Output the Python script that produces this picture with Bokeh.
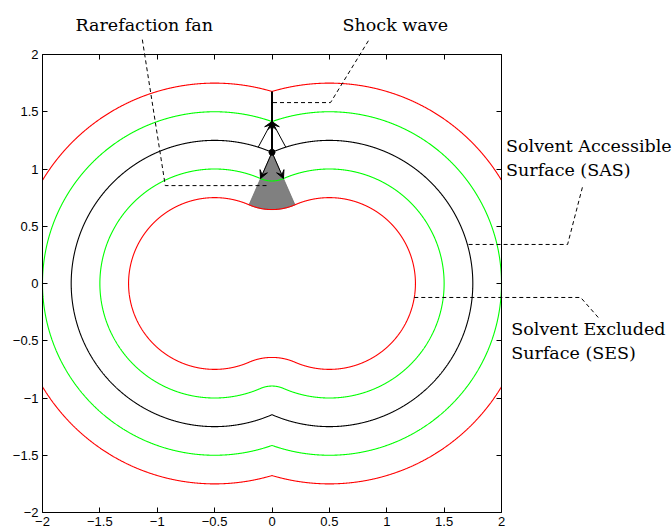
import numpy as np
from bokeh.plotting import figure
from bokeh.models import Range1d, LinearAxis, FixedTicker, Label, Arrow, VeeHead
from bokeh.embed import file_html
from bokeh.resources import INLINE

# ---------------- data ----------------
atom_x = [-0.5, 0.5]          # atom centres (y = 0)
sas_radius = 1.25             # solvent accessible surface radius
level_offsets = [-0.5, -0.25, 0.0, 0.25, 0.5]   # signed distance to SAS
char_start_x = [-0.12, 0.12]  # start of the converging characteristics on SAS
fan_arrow_len = 0.25
axis_limits = [-2, 2]

tick_values = [-2, -1.5, -1, -0.5, 0, 0.5, 1, 1.5, 2]
tick_labels = ["\u22122", "\u22121.5", "\u22121", "\u22120.5", "0", "0.5", "1", "1.5", "2"]

# ---------------- styles / layout ----------------
level_colors = ["#ff0000", "#00ff00", "#000000", "#00ff00", "#ff0000"]
serif = "DejaVu Serif"
sans = "Liberation Sans"
W, H = 672, 531
box_left, box_right, box_top, box_bottom = 42, 501, 54, 512   # pixel box of the axes

R = sas_radius
half = (atom_x[1] - atom_x[0]) / 2.0
h_sas = np.sqrt(R**2 - half**2)
lo, hi = axis_limits


def offset_curve(s, n=1600):
    r = R + s
    if s >= 0:
        hc = np.sqrt(r**2 - half**2)
        rho = 0.0
    else:
        hc = h_sas
        rho = -s
    a = np.arctan2(hc, -half)
    b = np.arctan2(hc, half)
    t1 = np.linspace(a, -a, n)
    t2 = np.linspace(b, a, n // 8)
    t3 = np.linspace(-b, -(2 * np.pi - b), n)
    t4 = np.linspace(-a, -b, n // 8)
    xs = np.concatenate([atom_x[1] + r * np.cos(t1), rho * np.cos(t2),
                         atom_x[0] + r * np.cos(t3), rho * np.cos(t4)])
    ys = np.concatenate([r * np.sin(t1), -hc + rho * np.sin(t2),
                         r * np.sin(t3), hc + rho * np.sin(t4)])
    out = (xs < lo) | (xs > hi) | (ys < lo) | (ys > hi)
    xs = np.where(out, np.nan, xs)
    ys = np.where(out, np.nan, ys)
    return xs, ys


sx = (box_right - box_left) / (hi - lo)
sy = (box_bottom - box_top) / (hi - lo)
x_range = Range1d(lo - box_left / sx, hi + (W - box_right) / sx)
y_range = Range1d(lo - (H - box_bottom) / sy, hi + box_top / sy)

p = figure(width=W, height=H, output_backend="svg", toolbar_location=None,
           x_range=x_range, y_range=y_range, min_border=0)
p.grid.visible = False
p.outline_line_color = None
p.background_fill_color = "white"
p.border_fill_color = "white"


def style_axis(ax, loc, show_labels):
    ax.ticker = FixedTicker(ticks=tick_values)
    ax.fixed_location = loc
    ax.bounds = (lo, hi)
    ax.major_tick_in = 5
    ax.major_tick_out = 0
    ax.minor_tick_line_color = None
    ax.axis_line_color = "black"
    ax.axis_line_width = 1
    ax.major_tick_line_color = "black"
    if show_labels:
        ax.major_label_overrides = dict(zip(tick_values, tick_labels))
        ax.major_label_text_font = sans
        ax.major_label_text_font_size = "13px"
        ax.major_label_text_color = "black"
        ax.major_label_standoff = 4
    else:
        ax.major_label_text_color = None


style_axis(p.xaxis[0], lo, True)
style_axis(p.yaxis[0], lo, True)
top_ax = LinearAxis()
style_axis(top_ax, hi, False)
p.add_layout(top_ax, "above")
right_ax = LinearAxis()
style_axis(right_ax, hi, False)
p.add_layout(right_ax, "right")

# rarefaction fan
rho_fan = -min(level_offsets)
b_t = np.arctan2(h_sas, half)
a_t = np.arctan2(h_sas, -half)
tf = np.linspace(-b_t, -a_t, 60)
fan_x = np.concatenate([[0.0], rho_fan * np.cos(tf)])
fan_y = np.concatenate([[h_sas], h_sas + rho_fan * np.sin(tf)])
p.patch(fan_x, fan_y, fill_color="#808080", line_color="#707070", line_width=0.8)

for s, c in zip(level_offsets, level_colors):
    xs, ys = offset_curve(s)
    p.line(xs, ys, line_color=c, line_width=1.1)

# shock line
h_out1 = np.sqrt((R + 0.25)**2 - half**2)
h_out2 = np.sqrt((R + max(level_offsets))**2 - half**2)
p.line([0, 0], [h_sas, h_out2], line_color="black", line_width=2)
p.scatter([0], [h_sas], size=6, color="black")


def arrow(x0, y0, x1, y1):
    p.add_layout(Arrow(end=VeeHead(size=8, fill_color="black", line_color="black", line_width=1),
                       x_start=x0, y_start=y0, x_end=x1, y_end=y1,
                       line_color="black", line_width=1))


arrow(0, h_sas, 0, h_out1)
for sxs in char_start_x:
    cx = atom_x[0] if sxs < 0 else atom_x[1]
    sys_ = np.sqrt(R**2 - (sxs - cx)**2)
    arrow(sxs, sys_, 0, h_out1)
for cx in atom_x:
    dx, dy = cx - 0.0, 0.0 - h_sas
    L = np.hypot(dx, dy)
    arrow(0, h_sas, fan_arrow_len * dx / L, h_sas + fan_arrow_len * dy / L)


# leader lines (annotation layout)
def leader(pts):
    xs, ys = zip(*pts)
    p.line(list(xs), list(ys), line_color="black", line_width=1, line_dash="4 3")


y_sas_lead = 0.341
x_sas_end = atom_x[1] + np.sqrt(R**2 - y_sas_lead**2)
y_ses_lead = -0.122
x_ses_end = atom_x[1] + np.sqrt((R + min(level_offsets))**2 - y_ses_lead**2)

leader([(-1.13, 2.13), (-0.93, 0.855), (-0.03, 0.855)])
leader([(0.84, 2.12), (0.51, 1.58), (0.0, 1.58)])
leader([(2.705, 0.84), (2.576, y_sas_lead), (x_sas_end, y_sas_lead)])
leader([(x_ses_end, y_ses_lead), (2.69, y_ses_lead), (2.846, -0.30)])


def label(x, y, t):
    p.add_layout(Label(x=x, y=y, text=t, text_font=serif, text_font_size="17.5px",
                       text_align="left", text_baseline="alphabetic", text_color="black"))


label(-1.713, 2.255, "Rarefaction fan")
label(0.615, 2.255, "Shock wave")
label(2.040, 1.200, "Solvent Accessible")
label(2.040, 0.990, "Surface (SAS)")
label(2.085, -0.398, "Solvent Excluded")
label(2.085, -0.608, "Surface (SES)")

open("out.html", "w").write(file_html(p, INLINE))
